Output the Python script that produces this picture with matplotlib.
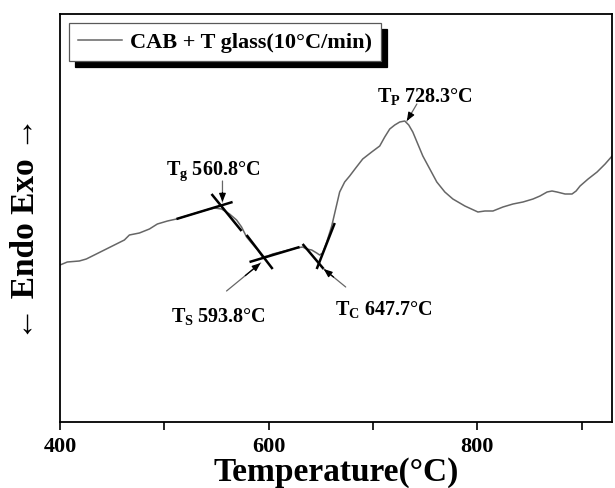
import matplotlib
matplotlib.use("Agg")
import matplotlib.pyplot as plt

plt.rcParams["font.family"] = ["Liberation Serif", "DejaVu Serif"]
plt.rcParams["font.weight"] = "bold"
plt.rcParams["mathtext.fontset"] = "custom"
plt.rcParams["mathtext.rm"] = "Liberation Serif:bold"
plt.rcParams["mathtext.it"] = "Liberation Serif:bold"
plt.rcParams["mathtext.bf"] = "Liberation Serif:bold"

# DSC curve (signal in arbitrary units)
temp = [400, 407.0, 418.5, 425.2, 432.9, 442.5, 452.1, 461.7, 466.5, 476.1,
        485.7, 493.3, 503.0, 511.6, 524.1, 533.7, 543.3, 548.1, 554.8, 562.5,
        569.2, 574.0, 578.8, 583.6, 589.4, 594.2, 599.0, 603.8, 615.3, 626.8,
        632.5, 636.4, 641.2, 646.0, 648.8, 651.7, 655.6, 660.4, 664.2, 668.0,
        672.8, 677.6, 683.4, 690.1, 698.7, 706.4, 711.2, 716.0, 720.8, 725.6,
        730.4, 734.2, 738.1, 742.9, 747.7, 754.4, 761.1, 768.8, 776.5, 788.0,
        800.5, 807.2, 814.9, 824.5, 834.1, 843.7, 853.3, 860.0, 866.8, 871.5,
        876.3, 884.0, 890.7, 894.6, 898.4, 906.1, 914.7, 922.4, 929.1]
signal = [157, 160, 161, 163, 167, 172, 177, 182, 187, 189,
          193, 198, 201, 203, 207, 210, 213, 214, 213, 208,
          202, 195, 185, 179, 172, 165, 166, 168, 171, 174,
          175, 173, 172, 169, 167, 169, 180, 196, 213, 230,
          240, 246, 254, 263, 270, 276, 285, 293, 297, 300,
          301, 297, 290, 278, 266, 253, 240, 230, 223, 216,
          210, 211, 211, 215, 218, 220, 223, 226, 230, 231,
          230, 228, 228, 231, 236, 243, 250, 258, 266]
series_label = "CAB + T glass(10°C/min)"

# tangent construction lines (start, end)
tangent_t = [(511.6, 565.4), (545.2, 574.0), (578.8, 603.8),
             (581.6, 629.6), (632.5, 652.7), (646.0, 663.3)]
tangent_s = [(203, 220), (228, 191), (187, 153),
             (160, 175), (178, 153), (153, 199)]

# characteristic temperatures
point_sub = ["g", "S", "C", "P"]
point_value = [560.8, 593.8, 647.7, 728.3]
arrow_tail = [(555.7, 241), (559.6, 131), (673.8, 135), (742.0, 318)]
arrow_head = [(555.7, 220), (592.3, 159), (652.7, 153), (732.4, 301)]
label_pos = [(501.2, 248), (506.7, 101), (663.3, 108), (703.6, 321)]

fig = plt.figure(figsize=(6.15, 4.89), dpi=100)
ax = fig.add_axes([60 / 615, 1 - 423 / 489, 552 / 615, 408 / 489])

ax.plot(temp, signal, color="0.4", linewidth=1.1, label=series_label)

for ts, ss in zip(tangent_t, tangent_s):
    ax.plot(ts, ss, color="black", linewidth=1.8, solid_capstyle="butt")

for sub, val, tail, head, pos in zip(point_sub, point_value, arrow_tail,
                                     arrow_head, label_pos):
    ax.annotate("", xy=head, xytext=tail,
                arrowprops=dict(arrowstyle="-", color="0.4", lw=0.9,
                                shrinkA=0, shrinkB=0))
    mid = (tail[0] + 0.55 * (head[0] - tail[0]), tail[1] + 0.55 * (head[1] - tail[1]))
    ax.annotate("", xy=head, xytext=mid,
                arrowprops=dict(arrowstyle="-|>,head_length=0.5,head_width=0.2",
                                color="black", lw=0.9, shrinkA=0, shrinkB=0))
    ax.text(pos[0], pos[1], f"$T_{{{sub}}}$ {val:.1f}°C", fontsize=14.5,
            fontweight="bold", ha="left", va="baseline")

ax.set_xlim(400, 929)
ax.set_ylim(0, 408)
ax.set_xticks([400, 600, 800])
ax.set_xticks([500, 700, 900], minor=True)
ax.set_yticks([])
ax.tick_params(axis="x", which="both", direction="out", length=6, width=1.2,
               labelsize=16, pad=4)
for lab in ax.get_xticklabels():
    lab.set_fontweight("bold")
for sp in ax.spines.values():
    sp.set_linewidth(1.3)

ax.set_xlabel("Temperature(°C)", fontsize=24, fontweight="bold", labelpad=0)
ax.set_ylabel("\u2190 Endo Exo \u2192", fontsize=24, fontweight="bold")
ax.yaxis.set_label_coords(-0.035, 0.478)

leg = ax.legend(loc="upper left", bbox_to_anchor=(0, 1), borderaxespad=0.4,
                prop={"family": "Liberation Serif", "weight": "bold", "size": 16},
                frameon=True, fancybox=False, edgecolor="0.35", framealpha=1,
                shadow={"ox": 4.5, "oy": -4.5, "color": "black", "alpha": 1},
                handlelength=2.0, handletextpad=0.35, borderpad=0.4)
leg.get_frame().set_linewidth(0.9)

plt.savefig("out.png", dpi=100)
plt.close()
